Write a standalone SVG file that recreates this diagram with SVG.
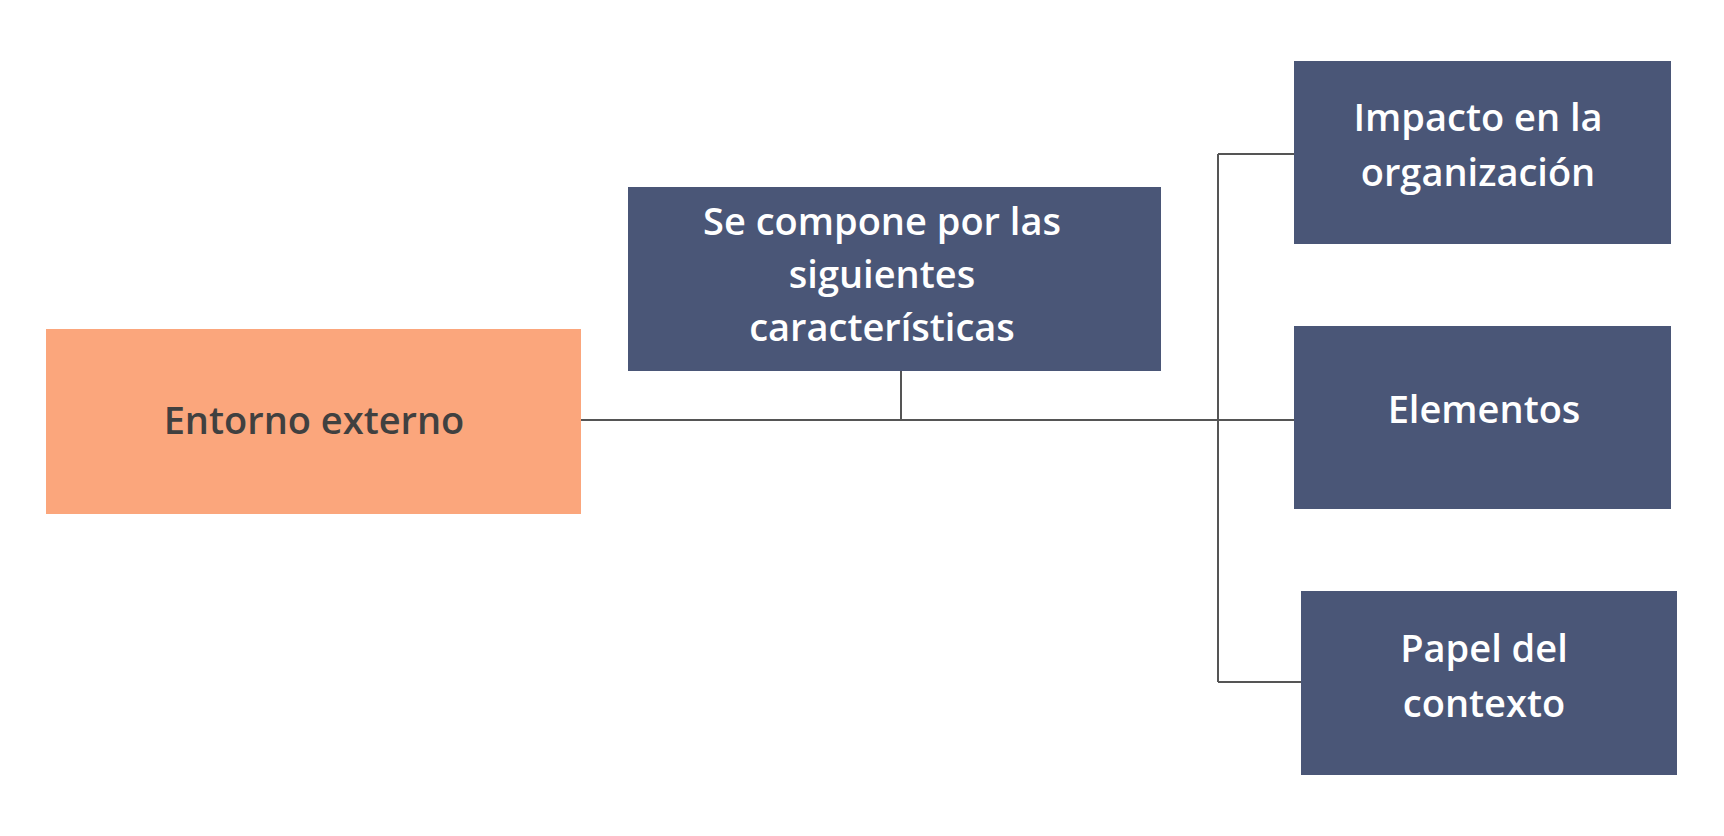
<svg xmlns="http://www.w3.org/2000/svg" width="1724" height="836" viewBox="0 0 1724 836">
<style>
.b{fill:#4A5677}
.t{font-family:"Open Sans","Noto Sans",sans-serif;font-weight:600;font-size:38px;fill:#fff;text-anchor:middle}
.c{stroke:#555;stroke-width:2;fill:none}
</style>
<rect width="1724" height="836" fill="#fff"/>
<g id="connectors">
<path class="c" d="M581 420H1294M901 371V420M1218 154V682M1218 154H1294M1218 682H1301"/>
</g>
<g id="entorno"><rect x="46" y="329" width="535" height="185" fill="#FBA67C"/><text class="t" x="314" y="434" style="fill:#404040">Entorno externo</text></g>
<g id="compone"><rect class="b" x="628" y="187" width="533" height="184"/><text class="t" x="882" y="235">Se compone por las</text><text class="t" x="882" y="288">siguientes</text><text class="t" x="882" y="341">características</text></g>
<g id="impacto"><rect class="b" x="1294" y="61" width="377" height="183"/><text class="t" x="1478" y="131">Impacto en la</text><text class="t" x="1478" y="186">organización</text></g>
<g id="elementos"><rect class="b" x="1294" y="326" width="377" height="183"/><text class="t" x="1484" y="423">Elementos</text></g>
<g id="papel"><rect class="b" x="1301" y="591" width="376" height="184"/><text class="t" x="1484" y="662">Papel del</text><text class="t" x="1484" y="717">contexto</text></g>
</svg>
